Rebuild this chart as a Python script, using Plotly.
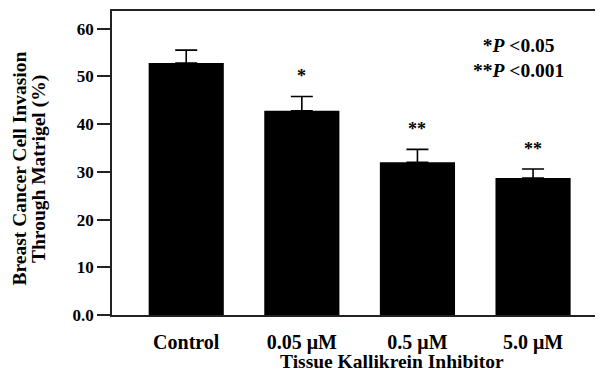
import plotly.graph_objects as go

categories = ["Control", "0.05 μM", "0.5 μM", "5.0 μM"]
invasion = [52.8, 42.8, 32.0, 28.7]
sem = [2.7, 3.0, 2.7, 1.9]
stars = ["", "*", "**", "**"]
y_tickvals = [0, 10, 20, 30, 40, 50, 60]
y_ticktext = ["0.0", "10", "20", "30", "40", "50", "60"]
y_title_lines = ["Breast Cancer Cell Invasion", "Through Matrigel (%)"]
x_title = "Tissue Kallikrein Inhibitor"

FONT = "Liberation Serif"
x_idx = list(range(len(categories)))

# the page body has an 8px margin, so the figure is sized to fit inside it
fig = go.Figure()
fig.add_trace(go.Bar(
    x=x_idx, y=invasion, width=0.65,
    marker=dict(color="black", line=dict(width=0)),
    error_y=dict(type="data", symmetric=False, array=sem,
                 arrayminus=[0] * len(sem), color="black",
                 thickness=1.6, width=11),
    showlegend=False,
))

def px_x(p):
    return (p - 112) / 491

def px_y(p):
    return (315 - p) / 304

annotations = []
for i, (v, e, s) in enumerate(zip(invasion, sem, stars)):
    if s:
        annotations.append(dict(x=i, y=v + e, xref="x", yref="y", text="<b>" + s + "</b>",
                                showarrow=False, yanchor="middle", yshift=20,
                                font=dict(family=FONT, size=18, color="black")))

annotations.append(dict(
    x=px_x(518), y=px_y(58), xref="paper", yref="paper",
    text="<b>*<i>P</i> &lt;0.05</b><br><b>**<i>P</i> &lt;0.001</b>",
    showarrow=False, xanchor="center", yanchor="middle", align="center",
    font=dict(family=FONT, size=19.5, color="black")))
for cx, line in zip([18.5, 39], y_title_lines):
    annotations.append(dict(
        x=px_x(cx), y=px_y(169), xref="paper", yref="paper",
        text="<b>" + line + "</b>", borderpad=0,
        textangle=-90, showarrow=False, xanchor="center", yanchor="middle",
        font=dict(family=FONT, size=19.5, color="black")))
annotations.append(dict(
    x=px_x(392), y=px_y(361.5),
    xref="paper", yref="paper", borderpad=0,
    text="<b>" + x_title + "</b>",
    showarrow=False, xanchor="center", yanchor="middle",
    font=dict(family=FONT, size=19.5, color="black")))

fig.update_layout(
    width=595, height=366,
    margin=dict(l=104, r=0, t=3, b=59),
    paper_bgcolor="white", plot_bgcolor="white",
    annotations=annotations,
    xaxis=dict(
        tickmode="array", tickvals=x_idx, ticktext=categories,
        range=[-0.642, 3.605], showgrid=False, zeroline=False,
        showline=True, mirror=True, linecolor="#222", linewidth=1.5,
        ticks="outside", ticklen=8, tickcolor="rgba(0,0,0,0)",
        tickfont=dict(family=FONT, size=20, color="black", weight="bold"),
    ),
    yaxis=dict(
        range=[0, 63.7], tickmode="array", tickvals=y_tickvals, ticktext=y_ticktext,
        showgrid=False, zeroline=False,
        showline=True, mirror=False, linecolor="#222", linewidth=1.5,
        ticks="outside", ticklen=13, tickwidth=1.5, tickcolor="#222",
        tickfont=dict(family=FONT, size=17, color="black", weight="bold"),
    ),
)

fig.write_html("out.html")
